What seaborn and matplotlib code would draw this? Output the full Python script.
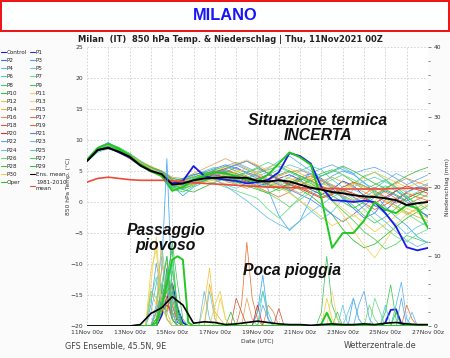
import numpy as np
import pandas as pd
import seaborn as sns
import matplotlib.pyplot as plt
from matplotlib.patches import Rectangle
from matplotlib.lines import Line2D

# time axis: hours after 11Nov2021 00z (temp every 12 h, precip every 6 h)
hours_t = list(range(0, 385, 12))
hours_r = list(range(0, 385, 6))
tick_hours = list(range(0, 385, 48))
tick_labels = ['11Nov 00z', '13Nov 00z', '15Nov 00z', '17Nov 00z', '19Nov 00z',
               '21Nov 00z', '23Nov 00z', '25Nov 00z', '27Nov 00z']

# 850 hPa temperature (°C)
t_control = [6.7, 8.4, 8.8, 8.0, 7.2, 6.0, 5.0, 4.4, 3.0, 3.4, 5.8, 4.2, 3.8, 3.6, 3.4, 3.0, 3.2, 3.6, 4.8, 7.9, 7.4, 6.2, 2.4, 0.3, 0.2, 0.0, 0.2, 0.0, -1.8, -4.0, -7.3, -7.8, -7.4]
t_p1 = [6.6, 8.2, 8.9, 8.4, 7.6, 6.4, 5.2, 4.6, 3.4, 3.0, 3.6, 4.4, 5.2, 4.8, 4.0, 3.4, 2.6, 3.0, 3.8, 4.4, 3.6, 2.0, 1.2, 2.0, 3.4, 2.6, 1.0, -0.6, -1.4, 0.2, 1.6, 2.4, 1.8]
t_p2 = [6.9, 8.6, 9.1, 8.2, 7.4, 6.0, 5.4, 4.8, 3.2, 2.4, 3.0, 3.4, 4.2, 4.8, 5.6, 4.6, 3.8, 2.8, 2.2, 3.0, 4.0, 4.6, 3.8, 2.2, 0.6, -1.0, -2.6, -1.8, 0.4, 1.8, 0.6, -1.4, -2.2]
t_p3 = [6.7, 8.8, 9.6, 8.6, 7.8, 6.6, 5.6, 4.4, 2.6, 1.0, 2.4, 3.2, 4.6, 5.4, 6.0, 5.2, 4.4, 2.0, -2.2, -4.6, -3.0, 0.6, 2.8, 4.2, 5.0, 4.4, 3.2, 1.4, -0.8, -2.4, -3.8, -5.6, -6.6]
t_p4 = [6.8, 8.4, 8.8, 8.0, 7.0, 5.8, 5.0, 4.2, 2.4, 2.6, 3.2, 4.0, 4.6, 5.8, 6.4, 5.6, 4.8, 5.4, 6.6, 7.4, 6.2, 5.0, 4.2, 4.8, 5.6, 4.6, 3.0, 2.2, 3.4, 4.6, 3.8, 2.6, 2.0]
t_p5 = [6.5, 8.0, 8.6, 8.2, 7.6, 6.4, 5.4, 4.8, 3.6, 3.2, 3.8, 4.4, 3.6, 2.8, 2.2, 3.0, 4.2, 4.8, 3.4, 1.6, 0.2, -1.4, -2.8, -1.6, 0.4, 2.0, 1.2, -0.4, -2.0, -3.6, -5.2, -4.0, -3.2]
t_p6 = [6.9, 8.7, 9.2, 8.6, 7.8, 6.6, 5.6, 5.0, 3.8, 3.4, 4.2, 5.0, 5.6, 5.0, 4.4, 4.0, 3.0, 2.4, 3.2, 4.0, 5.0, 5.8, 5.2, 3.6, 2.4, 3.0, 4.2, 4.8, 3.6, 2.0, 0.8, 1.6, 2.8]
t_p7 = [6.7, 8.5, 9.0, 8.2, 7.2, 5.8, 4.8, 4.2, 2.8, 2.2, 2.8, 3.4, 3.0, 2.4, 1.8, 1.2, 0.6, -1.2, -2.6, -1.0, 0.8, 2.2, 3.0, 2.4, 1.6, 0.4, -1.2, -2.8, -4.2, -5.6, -6.4, -5.2, -4.4]
t_p8 = [6.8, 8.6, 9.4, 8.8, 7.8, 6.4, 5.4, 4.6, 3.2, 3.6, 4.4, 4.8, 4.2, 3.6, 3.0, 3.8, 4.6, 5.2, 5.8, 5.0, 4.2, 3.4, 2.6, 1.8, 0.8, -0.6, -2.2, -3.4, -2.4, -1.0, 0.6, 1.4, 0.8]
t_p9 = [6.6, 8.3, 8.9, 8.4, 7.5, 6.2, 5.2, 4.4, 2.2, 1.6, 2.6, 3.6, 4.4, 5.0, 4.6, 4.0, 3.6, 3.0, 2.4, 1.8, 2.6, 3.8, 4.6, 5.2, 4.4, 3.2, 2.0, 2.8, 3.6, 2.4, 1.0, -0.8, -2.6]
t_p10 = [6.8, 8.4, 9.0, 8.4, 7.4, 6.2, 5.4, 4.6, 3.0, 2.0, 1.6, 2.4, 3.2, 3.8, 4.2, 4.8, 5.4, 4.6, 3.6, 2.8, 2.0, 1.0, -0.4, -2.0, -4.4, -6.2, -7.4, -6.8, -5.4, -4.0, -2.6, -1.6, -0.6]
t_p11 = [6.7, 8.5, 9.1, 8.5, 7.6, 6.4, 5.4, 4.8, 3.4, 3.0, 3.4, 4.2, 5.0, 5.6, 6.2, 6.8, 6.0, 5.0, 4.4, 3.8, 3.2, 2.6, 1.4, 0.2, -2.0, -4.6, -7.0, -9.0, -6.4, -3.6, -2.0, -1.2, -0.4]
t_p12 = [6.9, 8.7, 9.3, 8.7, 7.8, 6.6, 5.8, 5.0, 3.6, 3.2, 3.6, 3.8, 3.4, 3.0, 3.6, 4.4, 5.0, 5.6, 6.2, 5.4, 4.6, 3.8, 3.0, 2.4, 1.6, 2.8, 4.0, 4.8, 4.0, 3.2, 2.4, 3.0, 3.6]
t_p13 = [6.6, 8.2, 8.7, 8.2, 7.2, 6.0, 5.2, 4.4, 2.6, 2.8, 3.4, 4.0, 4.8, 4.2, 3.6, 3.2, 2.6, 2.2, 3.0, 3.8, 3.4, 2.8, 1.8, 0.4, -1.0, -2.4, -1.4, 0.2, 1.6, 2.8, 1.8, 0.6, -0.8]
t_p14 = [6.8, 8.6, 9.2, 8.5, 7.6, 6.2, 5.0, 4.0, 2.0, 2.4, 3.2, 3.6, 4.0, 4.6, 5.2, 4.8, 4.0, 3.4, 2.6, 3.4, 4.2, 3.6, 2.2, 1.4, 2.0, 3.0, 2.4, 1.2, 0.0, -1.0, -2.0, -1.0, 0.4]
t_p15 = [6.7, 8.4, 8.9, 8.3, 7.4, 6.2, 5.6, 5.0, 4.0, 3.8, 4.6, 5.4, 6.2, 7.0, 6.2, 5.4, 4.6, 3.8, 3.0, 2.2, 1.4, 2.4, 3.4, 4.0, 3.2, 2.4, 1.6, 0.8, 0.2, -0.6, -1.6, -2.4, -3.0]
t_p16 = [6.8, 8.5, 9.1, 8.6, 7.8, 6.6, 5.4, 4.6, 3.2, 2.6, 3.0, 3.6, 4.0, 3.4, 2.8, 2.2, 2.8, 3.6, 4.2, 4.8, 5.2, 4.4, 3.6, 2.8, 2.0, 1.2, 0.4, 1.2, 2.2, 3.0, 3.8, 3.2, 2.6]
t_p17 = [6.6, 8.3, 8.8, 8.0, 7.0, 5.8, 5.0, 4.4, 3.0, 3.4, 4.0, 4.6, 5.0, 4.4, 3.8, 3.2, 2.4, 1.6, 0.8, 1.6, 2.8, 3.4, 2.6, 1.8, 1.0, 0.2, 1.2, 2.4, 1.6, 0.6, -0.4, 0.4, 1.2]
t_p18 = [6.7, 8.6, 9.2, 8.4, 7.4, 6.2, 5.2, 4.4, 2.8, 2.8, 3.6, 4.2, 4.8, 5.4, 6.0, 6.6, 5.8, 4.6, 3.8, 3.0, 2.4, 1.6, 0.8, 1.4, 2.4, 3.2, 2.6, 1.8, 0.8, -0.2, 0.6, 1.4, 2.0]
t_p19 = [6.9, 8.5, 9.0, 8.3, 7.4, 6.2, 5.4, 4.8, 3.6, 3.0, 3.2, 3.8, 4.6, 5.2, 4.6, 4.0, 3.4, 2.8, 2.2, 2.8, 3.6, 4.2, 3.4, 2.6, 1.8, 0.8, -0.2, -1.2, -0.4, 0.6, 1.4, 0.8, 0.2]
t_p20 = [6.6, 8.4, 9.0, 8.4, 7.6, 6.4, 5.4, 4.6, 3.2, 3.0, 3.6, 4.0, 4.4, 4.0, 3.6, 3.2, 3.8, 4.4, 3.6, 2.8, 2.2, 1.4, 0.6, 1.2, 2.0, 1.4, 0.6, -0.2, 0.8, 1.8, 2.6, 2.0, 1.4]
t_p21 = [6.8, 8.7, 9.3, 8.6, 7.6, 6.4, 5.6, 4.8, 3.4, 3.8, 4.4, 4.8, 5.4, 6.0, 5.4, 4.8, 4.2, 3.6, 2.8, 2.0, 1.2, 0.4, -0.8, -2.0, -3.2, -2.0, -0.6, 0.8, 1.8, 1.0, 0.0, -1.2, -2.4]
t_p22 = [6.7, 8.4, 9.0, 8.4, 7.4, 6.0, 5.0, 4.2, 2.4, 2.0, 2.8, 3.6, 4.4, 5.2, 6.0, 6.6, 5.6, 4.6, 3.6, 2.6, 3.4, 4.6, 5.4, 6.0, 5.2, 4.6, 5.2, 5.6, 4.8, 3.8, 2.8, 3.6, 4.4]
t_p23 = [6.8, 8.6, 9.2, 8.6, 7.8, 6.4, 5.4, 4.6, 3.0, 2.6, 3.2, 4.0, 3.6, 2.6, 1.4, 0.2, -1.2, -2.6, -3.6, -4.4, -3.0, -1.6, -0.4, 0.8, 1.6, 0.8, -0.4, -1.8, -3.2, -4.8, -6.2, -7.2, -6.4]
t_p24 = [6.6, 8.3, 8.8, 8.2, 7.3, 6.0, 5.2, 4.4, 2.6, 2.6, 3.4, 4.2, 5.0, 4.4, 3.6, 3.0, 3.6, 4.4, 5.2, 6.0, 5.4, 4.6, 3.6, 2.6, 1.6, 2.4, 3.4, 4.0, 3.2, 2.4, 1.6, 2.2, 3.0]
t_p25 = [6.9, 8.8, 9.4, 8.8, 7.8, 6.6, 5.6, 4.8, 3.4, 3.2, 3.8, 4.4, 4.0, 3.4, 4.0, 4.8, 5.6, 6.4, 5.6, 4.8, 4.0, 3.2, 2.4, 1.6, 0.8, 0.0, 0.8, 1.8, 2.6, 1.8, 0.8, -0.2, -1.2]
t_p26 = [6.7, 8.5, 9.0, 8.4, 7.5, 6.2, 5.2, 4.4, 2.8, 2.4, 3.0, 3.4, 3.8, 4.4, 3.8, 3.0, 2.2, 1.4, 0.4, -0.8, 0.4, 1.6, 2.8, 3.6, 4.4, 3.6, 2.6, 1.6, 0.6, -0.6, -1.8, -3.0, -4.0]
t_p27 = [6.8, 8.4, 8.9, 8.2, 7.2, 6.0, 5.0, 4.2, 2.2, 2.8, 3.6, 4.4, 5.2, 5.8, 5.0, 4.2, 3.4, 2.6, 1.8, 2.6, 3.4, 2.6, 1.4, 0.2, -1.4, -3.0, -4.8, -6.0, -7.6, -6.8, -5.4, -6.0, -6.6]
t_p28 = [6.6, 8.2, 8.8, 8.4, 7.6, 6.4, 5.6, 5.0, 3.8, 3.6, 4.0, 4.6, 5.0, 4.6, 4.2, 3.6, 3.0, 3.6, 4.4, 5.0, 4.2, 3.4, 4.2, 5.0, 5.8, 5.0, 4.0, 3.0, 2.2, 3.2, 4.2, 5.0, 5.6]
t_p29 = [6.7, 8.5, 9.1, 8.5, 7.6, 6.2, 5.2, 4.4, 2.6, 2.2, 2.8, 3.4, 4.0, 3.6, 3.2, 2.6, 2.0, 1.4, 2.2, 3.0, 3.8, 3.0, 2.0, 1.0, 0.0, -1.0, 0.0, 1.0, 2.0, 1.2, 0.2, 1.0, 2.2]
t_p30 = [6.8, 8.6, 9.2, 8.6, 7.6, 6.4, 5.4, 4.6, 3.2, 2.4, 2.8, 3.2, 3.6, 4.2, 4.8, 5.4, 4.4, 3.4, 2.4, 1.4, 0.2, -1.0, -2.4, -3.8, -3.0, -2.0, -3.4, -4.8, -3.6, -2.2, -1.0, -1.8, -2.6]
t_oper = [6.8, 8.7, 9.4, 8.6, 7.5, 6.0, 5.0, 4.2, 1.8, 2.4, 3.6, 4.2, 4.8, 4.6, 4.2, 3.6, 3.4, 4.4, 6.2, 8.0, 7.2, 6.0, 0.5, -7.4, -5.0, -5.0, -3.0, 0.0, -1.2, -1.8, -0.5, -1.0, -4.2]
t_ens_mean = [6.6, 8.4, 8.7, 8.1, 7.3, 5.9, 5.0, 4.5, 2.8, 3.0, 3.5, 3.8, 3.9, 4.0, 3.9, 3.9, 3.4, 3.3, 3.5, 3.3, 2.8, 2.3, 2.0, 1.6, 1.4, 1.1, 0.9, 0.8, 0.6, 0.3, -0.5, -0.2, 0.0]
t_clim = [3.2, 3.8, 4.0, 3.8, 3.6, 3.5, 3.5, 3.5, 3.4, 3.3, 3.1, 3.0, 2.9, 2.8, 2.7, 2.6, 2.5, 2.4, 2.4, 2.3, 2.3, 2.2, 2.2, 2.2, 2.1, 2.1, 2.1, 2.1, 2.1, 2.2, 2.2, 2.2, 2.2]

# precipitation (mm / 6 h): (hour, mm) where not zero
r_control = [(84, 1.5), (90, 4), (96, 6), (102, 2.5), (108, 0.5), (336, 0.5), (342, 2.3), (348, 2.4), (354, 0.3)]
r_p1 = [(84, 2), (90, 8.3), (96, 3), (102, 0.5)]
r_p2 = [(78, 1), (84, 4), (90, 2), (96, 5), (102, 1.5)]
r_p3 = [(78, 3), (84, 8), (90, 24), (96, 4), (102, 1), (192, 2), (198, 7.3), (204, 1), (300, 4), (306, 1)]
r_p4 = [(72, 2), (78, 6), (84, 10), (90, 3), (96, 1), (192, 2), (198, 5), (204, 1), (348, 3), (354, 6.3), (360, 1)]
r_p5 = [(78, 2), (84, 12), (90, 5), (96, 2), (138, 5), (144, 1), (288, 3)]
r_p6 = [(84, 3), (90, 5), (96, 9), (102, 2)]
r_p7 = [(72, 4), (78, 7), (84, 3), (90, 1), (324, 4), (330, 2)]
r_p8 = [(84, 2), (90, 6), (96, 12), (102, 6), (108, 1), (264, 2), (270, 10), (276, 3), (282, 1)]
r_p9 = [(84, 4), (90, 2), (96, 8), (102, 3), (336, 2), (342, 5.9), (348, 1)]
r_p10 = [(78, 1), (84, 3), (90, 7), (96, 11), (102, 2)]
r_p11 = [(72, 6), (78, 12.8), (84, 3), (90, 1), (150, 4), (156, 1)]
r_p12 = [(72, 5), (78, 3), (84, 11), (90, 2), (132, 3), (138, 8.3), (144, 1)]
r_p13 = [(72, 3), (78, 1), (84, 6), (90, 4), (96, 1), (276, 5), (282, 1)]
r_p14 = [(78, 2), (84, 8), (90, 9), (96, 3), (102, 1), (138, 6), (144, 2), (150, 1)]
r_p15 = [(84, 4), (90, 2), (96, 6), (102, 1), (180, 4), (186, 1)]
r_p16 = [(84, 3), (90, 5), (96, 2), (102, 1), (204, 3), (210, 2)]
r_p17 = [(84, 2), (90, 7), (96, 3), (102, 1), (174, 3), (180, 12), (186, 4), (192, 1), (360, 3), (366, 1)]
r_p18 = [(78, 2), (84, 5), (90, 4), (96, 1), (168, 4), (174, 2), (216, 2.5)]
r_p19 = [(84, 3), (90, 4), (96, 1)]
r_p20 = [(84, 2), (90, 3), (96, 2), (192, 3)]
r_p21 = [(84, 4), (90, 7), (96, 1)]
r_p22 = [(72, 3), (78, 9), (84, 5), (90, 1), (198, 3), (204, 1), (306, 3), (312, 5), (318, 1), (354, 4)]
r_p23 = [(84, 6), (90, 10), (96, 2), (132, 5), (138, 1), (294, 2), (300, 4), (306, 1), (366, 2)]
r_p24 = [(78, 2), (84, 5), (90, 7), (96, 1), (336, 3)]
r_p25 = [(84, 3), (90, 6), (96, 2), (198, 5), (204, 2)]
r_p26 = [(72, 5), (78, 4), (84, 6), (90, 1), (318, 3), (324, 1)]
r_p27 = [(84, 2), (90, 8), (96, 4), (102, 1), (282, 2)]
r_p28 = [(78, 1), (84, 5), (90, 10), (96, 1), (162, 2)]
r_p29 = [(84, 3), (90, 5), (96, 6), (102, 1), (348, 2)]
r_p30 = [(72, 8), (78, 11), (84, 3), (90, 1), (144, 3), (150, 5), (156, 1), (270, 4), (276, 1)]
r_oper = [(78, 0.5), (84, 3), (90, 6), (96, 9.5), (102, 10), (108, 9.5), (114, 0.5), (264, 0.3), (270, 1.9), (276, 0.3)]
r_ens_mean = [0, 0, 0, 0, 0, 0.2, 1.8, 2.6, 4.2, 3.0, 0.4, 0.6, 0.5, 0.2, 0.3, 0.5, 0.7, 0.5, 0.3, 0.2, 0.2, 0.1, 0.2, 0.3, 0.2, 0.2, 0.3, 0.2, 0.4, 0.5, 0.3, 0.2, 0.2]

names = ['Control'] + ['P%d' % i for i in range(1, 31)]
temps = [t_control, t_p1, t_p2, t_p3, t_p4, t_p5, t_p6, t_p7, t_p8, t_p9, t_p10,
         t_p11, t_p12, t_p13, t_p14, t_p15, t_p16, t_p17, t_p18, t_p19, t_p20,
         t_p21, t_p22, t_p23, t_p24, t_p25, t_p26, t_p27, t_p28, t_p29, t_p30]
rains = [r_control, r_p1, r_p2, r_p3, r_p4, r_p5, r_p6, r_p7, r_p8, r_p9, r_p10,
         r_p11, r_p12, r_p13, r_p14, r_p15, r_p16, r_p17, r_p18, r_p19, r_p20,
         r_p21, r_p22, r_p23, r_p24, r_p25, r_p26, r_p27, r_p28, r_p29, r_p30]
colors = ['#1a1ae6', '#2233dd', '#3d6bff', '#3fa9f5', '#5cb8f2', '#66cce6', '#45d6b5',
          '#66e08a', '#44c765', '#3ecf45', '#2fbf2f', '#f2d45e', '#f0c443', '#f2d77a',
          '#efb53a', '#e6a65a', '#e88a4a', '#e8773a', '#cf5a3a', '#e8682a', '#e02a2a',
          '#5082e8', '#5fa8f0', '#68bfe8', '#5fcbd2', '#52d8a2', '#68d878', '#4fcf58',
          '#38c038', '#27c827', '#f0cf45']
oper_color = '#22c822'
clim_color = '#ee4b3b'


def full_rain(pairs):
    s = pd.Series(0.0, index=hours_r)
    for h, v in pairs:
        s[h] = v
    return s


sns.set_style('white')
plt.rcParams['font.family'] = ['DejaVu Sans']

fig = plt.figure(figsize=(4.5, 3.58), dpi=100, facecolor='#fbfbfb')
ax = fig.add_axes([0.1933, 0.0894, 0.7578, 0.7793])
ax.set_facecolor('white')
ax2 = ax.twinx()

# temperature spaghetti
for name, t, c in zip(names, temps, colors):
    lw = 1.3 if name == 'Control' else 0.55
    sns.lineplot(x=hours_t, y=t, ax=ax, color=c, lw=lw, zorder=3 if name == 'Control' else 2)
sns.lineplot(x=hours_t, y=t_oper, ax=ax, color=oper_color, lw=1.4, zorder=4)
sns.lineplot(x=hours_t, y=t_clim, ax=ax, color=clim_color, lw=1.2, zorder=4)
sns.lineplot(x=hours_t, y=t_ens_mean, ax=ax, color='black', lw=1.4, zorder=5)

# precipitation spaghetti (right axis)
for name, r, c in zip(names, rains, colors):
    s = full_rain(r)
    lw = 1.3 if name == 'Control' else 0.55
    sns.lineplot(x=s.index, y=s.values, ax=ax2, color=c, lw=lw)
s = full_rain(r_oper)
sns.lineplot(x=s.index, y=s.values, ax=ax2, color=oper_color, lw=1.4)
sns.lineplot(x=hours_t, y=r_ens_mean, ax=ax2, color='black', lw=1.2)

ax.set_xlim(0, 384)
ax.set_ylim(-20, 25)
ax2.set_ylim(0, 40)
ax.set_xticks(tick_hours)
ax.set_xticklabels(tick_labels)
ax.set_xticks(range(0, 385, 24), minor=True)
ax.set_yticks(range(-20, 26, 5))
ax2.set_yticks(range(0, 41, 10))
ax2.set_yticks(range(0, 41, 2), minor=True)
ax.grid(True, which='both', axis='x', color='#cfcfcf', ls=(0, (2, 2)), lw=0.6)
ax.grid(True, which='major', axis='y', color='#cfcfcf', ls=(0, (2, 2)), lw=0.6)
ax2.grid(False)
for a in (ax, ax2):
    for sp in a.spines.values():
        sp.set_visible(False)
ax.tick_params(axis='both', which='both', length=0, labelsize=4.3, pad=3, labelcolor='#333333')
ax2.tick_params(axis='y', which='major', length=2, width=0.4, labelsize=4.3, pad=2, labelcolor='#333333')
ax2.tick_params(axis='y', which='minor', length=1.2, width=0.4)
ax.set_xlabel('Date (UTC)', fontsize=4.3, labelpad=3, color='#333333')
ax.set_ylabel('850 hPa Temp. (°C)', fontsize=4.3, labelpad=-1, color='#333333')
ax2.set_ylabel('Niederschlag (mm)', fontsize=4.3, labelpad=3, color='#333333')

# header banner
fig.patches.append(Rectangle((0.003, 1 - 30.5 / 358), 0.994, 29.5 / 358, transform=fig.transFigure,
                             facecolor='white', edgecolor='#ee1111', lw=1.4, zorder=0))
fig.text(0.5, 1 - 15.5 / 358, 'MILANO', ha='center', va='center', color='#1414ff',
         fontsize=11.8, fontweight='bold', family='Liberation Sans')
fig.text(0.513, 1 - 39 / 358, 'Milan  (IT)  850 hPa Temp. & Niederschlag | Thu, 11Nov2021 00Z',
         ha='center', va='center', fontsize=6.0, fontweight='bold', color='#222222')

# annotations
anno = dict(ha='center', va='center', fontsize=11.3, fontweight='bold', style='italic',
            family='Liberation Sans', color='#111111', transform=fig.transFigure)
fig.text(318 / 450, 1 - 128 / 358, 'Situazione termica\nINCERTA', linespacing=1.0, **anno)
fig.text(166 / 450, 1 - 238 / 358, 'Passaggio\npiovoso', linespacing=1.0, **anno)
fig.text(292 / 450, 1 - 270 / 358, 'Poca pioggia', **anno)

# footer
fig.text(65 / 450, 1 - 346 / 358, 'GFS Ensemble, 45.5N, 9E', ha='left', va='center', fontsize=5.8, color='#444444')
fig.text(344 / 450, 1 - 346 / 358, 'Wetterzentrale.de', ha='left', va='center', fontsize=5.8, color='#444444')

# legend: two columns filled row-wise as in the original
left_names = names[0::2] + ['Oper']
left_cols = colors[0::2] + [oper_color]
right_names = names[1::2] + ['Ens. mean', '1981-2010\nmean']
right_cols = colors[1::2] + ['black', clim_color]
handles = [Line2D([], [], color=c, lw=0.8) for c in left_cols + right_cols]
fig.legend(handles, left_names + right_names, ncol=2, loc='upper left',
           bbox_to_anchor=(0.002, 1 - 50 / 358), frameon=False, fontsize=4.1,
           handlelength=0.9, handletextpad=0.15, columnspacing=0.5, labelspacing=0.55,
           borderpad=0, borderaxespad=0)

fig.savefig('out.png', dpi=100, facecolor=fig.get_facecolor())
